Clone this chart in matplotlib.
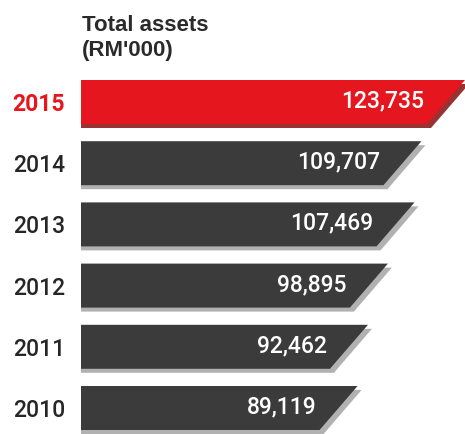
import matplotlib
matplotlib.use("Agg")
import matplotlib.pyplot as plt
from matplotlib.patches import Polygon

# Total assets by year, RM'000 (newest first)
years = ["2015", "2014", "2013", "2012", "2011", "2010"]
assets = [123735, 109707, 107469, 98895, 92462, 89119]
value_labels = ["123,735", "109,707", "107,469", "98,895", "92,462", "89,119"]

RED = "#e5161d"
RED_SHADE = "#8e1b1b"
DARK = "#3b3b3b"
DARK_SHADE = "#a9a9a9"

W, H, DPI = 465, 434, 100
fig = plt.figure(figsize=(W / DPI, H / DPI), dpi=DPI)
fig.patch.set_facecolor("white")

plt.rcParams["font.family"] = ["Roboto", "Liberation Sans", "DejaVu Sans"]

left_px, right_px = 81, 465
ax = fig.add_axes([left_px / W, 0, (right_px - left_px) / W, 1])
ax.set_xlim(0, assets[0])
units_per_px = assets[0] / (right_px - left_px)

# rows: centre of first bar at 102 px from top, 61.2 px pitch
row0_px, pitch_px = 102, 61.2
ax.set_ylim((H - row0_px) / pitch_px, -row0_px / pitch_px)

bar_h = 44 / pitch_px
slant = 38 * units_per_px
sh_dx = 4 * units_per_px
sh_dy = 4 / pitch_px
label_gap = 41 * units_per_px

for i, (v, lab) in enumerate(zip(assets, value_labels)):
    top, bot = i - bar_h / 2, i + bar_h / 2
    face = RED if i == 0 else DARK
    shade = RED_SHADE if i == 0 else DARK_SHADE
    shadow = Polygon([(0, top + sh_dy), (v + sh_dx, top + sh_dy),
                      (v + sh_dx - slant, bot + sh_dy), (0, bot + sh_dy)],
                     closed=True, facecolor=shade, edgecolor="none",
                     alpha=0.9, zorder=1)
    ax.add_patch(shadow)
    bar = Polygon([(0, top), (v, top), (v - slant, bot), (0, bot)],
                  closed=True, facecolor=face, edgecolor="none", zorder=2)
    ax.add_patch(bar)
    ax.text(v - label_gap, i - 0.02, lab, ha="right", va="center",
            color="white", fontsize=16.5, fontweight="medium", zorder=3)

ax.set_yticks(range(len(years)))
ax.set_yticklabels(years, fontsize=16.5, fontweight="medium")
ax.tick_params(axis="y", length=0, pad=11.5)
for k, t in enumerate(ax.get_yticklabels()):
    t.set_color(RED if k == 0 else "#262626")
    if k == 0:
        t.set_fontweight("bold")
ax.set_xticks([])
for s in ax.spines.values():
    s.set_visible(False)
ax.patch.set_alpha(0)

fig.text(82 / W, 1 - 31 / H, "Total assets", fontsize=16, fontweight="bold",
         color="#2a2a2a", ha="left", va="baseline",
         family=["Liberation Sans", "DejaVu Sans"])
fig.text(82 / W, 1 - 56 / H, "(RM'000)", fontsize=16, fontweight="bold",
         color="#2a2a2a", ha="left", va="baseline",
         family=["Liberation Sans", "DejaVu Sans"])

fig.savefig("out.png", dpi=DPI, facecolor="white")
